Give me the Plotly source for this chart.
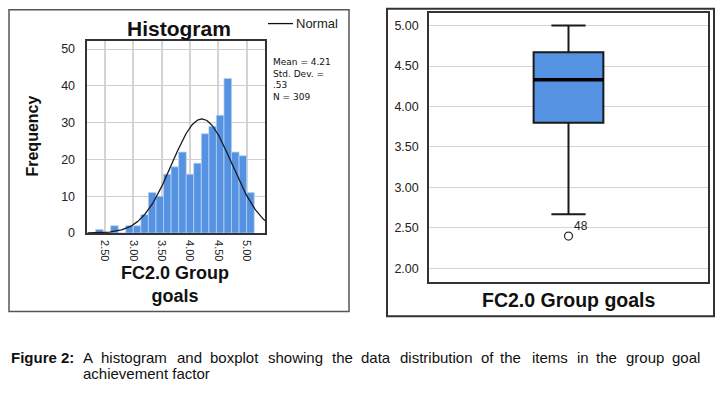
import numpy as np
import plotly.graph_objects as go

W, H = 726, 396

# ---- Histogram data ----
bin_centers = [2.40, 2.533, 2.667, 2.80, 2.933, 3.067, 3.20, 3.333, 3.467, 3.60, 3.733,
               3.867, 4.00, 4.133, 4.267, 4.40, 4.533, 4.667, 4.80, 4.933, 5.067]
bin_counts = [1, 0, 2, 0, 2, 2, 5, 11, 10, 16, 18, 22, 16, 19, 27, 29, 32, 42, 22, 21, 11]
bin_width = 0.1333
stat_mean, stat_sd, stat_n = 4.21, 0.53, 309
hist_xticks = [2.5, 3.0, 3.5, 4.0, 4.5, 5.0]
hist_xticklabels = ["2.50", "3.00", "3.50", "4.00", "4.50", "5.00"]
hist_yticks = [0, 10, 20, 30, 40, 50]

# ---- Boxplot data ----
box_q1, box_median, box_q3 = 3.80, 4.33, 4.67
box_low, box_high = 2.67, 5.00
outlier_values = [2.40]
outlier_labels = ["48"]
box_yticks = [2.0, 2.5, 3.0, 3.5, 4.0, 4.5, 5.0]
box_yticklabels = ["2.00", "2.50", "3.00", "3.50", "4.00", "4.50", "5.00"]

# ---- Caption ----
caption_label = "Figure 2:"
caption_line1 = "A histogram and boxplot showing the data distribution of the items in the group goal"
caption_line2 = "achievement factor"

BAR = "#5592E2"
FONT = "Liberation Sans, Arial, sans-serif"


def px(x):
    return x / W


def py(y):
    return 1 - y / H


fig = go.Figure()

# histogram bars
fig.add_trace(go.Bar(x=bin_centers, y=bin_counts, width=bin_width,
                     marker=dict(color=BAR, line=dict(color="#b7cff0", width=0.8)),
                     xaxis="x", yaxis="y", showlegend=False))

# normal curve from the stated statistics
xs = np.linspace(2.19, 5.33, 200)
ys = stat_n * bin_width * np.exp(-0.5 * ((xs - stat_mean) / stat_sd) ** 2) / (stat_sd * np.sqrt(2 * np.pi))
fig.add_trace(go.Scatter(x=xs, y=ys, mode="lines", line=dict(color="#1a1a1a", width=1.3),
                         xaxis="x", yaxis="y", showlegend=False, hoverinfo="skip"))

# box plot
box_w = 0.5
fig.add_trace(go.Box(x=[0], q1=[box_q1], median=[box_median], q3=[box_q3],
                     lowerfence=[box_low], upperfence=[box_high], width=box_w,
                     whiskerwidth=0.49, fillcolor=BAR, boxpoints=False,
                     line=dict(color="#1a1a1a", width=2),
                     xaxis="x2", yaxis="y2", showlegend=False))
fig.add_trace(go.Scatter(x=[-box_w / 2, box_w / 2], y=[box_median, box_median], mode="lines",
                         line=dict(color="#000000", width=3.5),
                         xaxis="x2", yaxis="y2", showlegend=False, hoverinfo="skip"))
fig.add_trace(go.Scatter(x=[0] * len(outlier_values), y=outlier_values, mode="markers",
                         marker=dict(symbol="circle-open", size=8, color="#333", line=dict(width=1.3)),
                         xaxis="x2", yaxis="y2", showlegend=False))

hist_dom_x = [px(87.3), px(265)]
hist_dom_y = [py(237.3), py(41.7)]
box_dom_x = [px(429), px(708)]
box_dom_y = [py(286.7), py(13.3)]

axis_common = dict(showline=True, mirror=True, linecolor="#333", linewidth=1.5,
                   zeroline=False, ticks="")

fig.update_layout(
    width=W, height=H, margin=dict(l=0, r=0, t=0, b=0),
    paper_bgcolor="white", plot_bgcolor="white",
    xaxis=dict(domain=hist_dom_x, range=[2.188, 5.324], anchor="y",
               tickvals=hist_xticks, ticktext=hist_xticklabels, tickangle=90,
               showgrid=True, gridcolor="#d4d4d4", gridwidth=2,
               ticklabelstandoff=3, tickfont=dict(family=FONT, size=11, color="#222"),
               **axis_common),
    yaxis=dict(domain=hist_dom_y, range=[0, 52.2], anchor="x",
               tickvals=hist_yticks, showgrid=True, gridcolor="#cfcfcf", gridwidth=1,
               ticklabelstandoff=8, tickfont=dict(family=FONT, size=12.5, color="#222"),
               **axis_common),
    xaxis2=dict(domain=box_dom_x, range=[-1, 1], anchor="y2", showticklabels=False,
                showgrid=False, **axis_common),
    yaxis2=dict(domain=box_dom_y, range=[1.837, 5.154], anchor="x2",
                tickvals=box_yticks, ticktext=box_yticklabels, showgrid=True,
                gridcolor="#d4d4d4", gridwidth=1, ticklabelstandoff=6,
                tickfont=dict(family=FONT, size=12.5, color="#222"), **axis_common),
)

shapes = [
    dict(type="rect", xref="paper", yref="paper", x0=px(9), x1=px(349), y0=py(317), y1=py(10),
         line=dict(color="#555", width=1.5), layer="below"),
    dict(type="rect", xref="paper", yref="paper", x0=px(387), x1=px(714), y0=py(322), y1=py(9),
         line=dict(color="#333", width=2), layer="below"),
    dict(type="line", xref="paper", yref="paper", x0=px(268), x1=px(293), y0=py(24), y1=py(24),
         line=dict(color="#111", width=1.3)),
]
fig.update_layout(shapes=shapes)

ann = []


def A(text, x, y, size, bold=False, xanchor="center", yanchor="middle", angle=0, family=FONT,
      color="#111", align="left"):
    ann.append(dict(text=("<b>%s</b>" % text) if bold else text, x=px(x), y=py(y),
                    xref="paper", yref="paper", showarrow=False, xanchor=xanchor, yanchor=yanchor,
                    textangle=angle, borderpad=0, align=align,
                    font=dict(family=family, size=size, color=color)))


A("Histogram", 179, 29, 21, bold=True)
A("Frequency", 33, 139, 16, bold=True, angle=-90)
A("FC2.0 Group<br>goals", 175, 290, 18, bold=True, align="center")
A("Normal", 295, 24, 13, xanchor="left", color="#222")
A("Mean = 4.21<br>Std. Dev. =<br>.53<br>N = 309", 272, 57, 9,
  xanchor="left", yanchor="top", family="DejaVu Sans, sans-serif")
A("FC2.0 Group goals", 569, 305, 19.5, bold=True)

# outlier case labels
for v, lab in zip(outlier_values, outlier_labels):
    ann.append(dict(text=lab, x=0, y=v, xref="x2", yref="y2", showarrow=False,
                    xanchor="left", yanchor="bottom", xshift=4, yshift=2, borderpad=0,
                    font=dict(family=FONT, size=12, color="#222")))

# caption: justified first line reproduced by placing each word at its position
A(caption_label, 10, 364, 15, bold=True, xanchor="left")
word_x = [82, 100, 176, 209, 267, 331, 360, 399, 480, 499, 531, 576, 595, 625, 671]
for w, x in zip(caption_line1.split(" "), word_x):
    A(w, x, 364, 15, xanchor="left")
A(caption_line2, 82, 380, 15, xanchor="left")

fig.update_layout(annotations=ann)
fig.write_html("out.html", post_script="document.body.style.margin='0';",
               config={"displayModeBar": False})
